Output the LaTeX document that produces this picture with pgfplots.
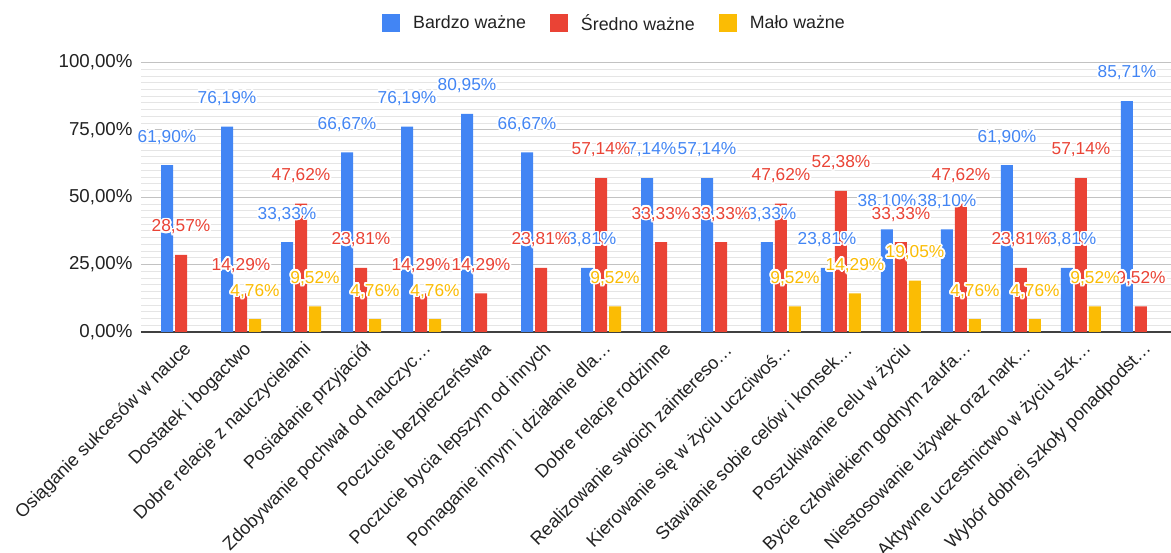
\documentclass[border=0pt]{standalone}
\usepackage{fontspec}
\setmainfont{Liberation Sans}
\usepackage{pgfplots}
\pgfplotsset{compat=1.18}
\usepackage{contour}
\contourlength{1.7pt}
\contournumber{24}
\definecolor{gblue}{HTML}{4285F4}
\definecolor{gred}{HTML}{EA4335}
\definecolor{gyellow}{HTML}{FBBC04}
\definecolor{txt}{HTML}{222222}
\pgfplotsset{sqlegend/.style={legend image code/.code={\fill[##1] (0pt,-9pt) rectangle (18pt,9pt);}}}
\pgfplotsset{lbl/.style 2 args={ybar, bar width=12pt, bar shift=0pt, draw=none, fill=none, forget plot,
  nodes near coords={\contour{white}{\pgfmathprintnumber[fixed,fixed zerofill,precision=2,use comma]{\pgfplotspointmeta}\%}},
  point meta=y,
  every node near coord/.append style={font=\fontsize{17.3}{18}\selectfont, inner sep=0pt, xshift=#2, yshift=19pt, text=#1}}}
\begin{document}
\begin{tikzpicture}[x=1pt,y=1pt]
\useasboundingbox (0,0) rectangle (1171,553);
\begin{axis}[
  at={(141pt,221pt)}, anchor=south west,
  scale only axis, width=1030pt, height=269.5pt,
  xmin=-0.667, xmax=16.5, ymin=0, ymax=100,
  clip=false,
  /pgf/number format/assume math mode=true,
  axis line style={draw=none},
  major tick length=0pt, minor tick length=0pt,
  ytick={0,25,50,75,100},
  yticklabels={{0,00\%},{25,00\%},{50,00\%},{75,00\%},{100,00\%}},
  minor y tick num=9,
  ymajorgrids, yminorgrids,
  major grid style={draw=black!24, line width=0.9pt},
  minor grid style={draw=black!10, line width=0.9pt},
  extra y ticks={0}, extra y tick labels={},
  extra y tick style={grid=major, major grid style={draw=black!75, line width=1.3pt}},
  yticklabel style={font=\fontsize{18.7}{20}\selectfont, text=txt, xshift=-5pt},
  xtick={0,...,16},
  xticklabels={Osiąganie sukcesów w nauce, Dostatek i bogactwo, Dobre relacje z nauczycielami, Posiadanie przyjaciół, Zdobywanie pochwał od nauczyc…, Poczucie bezpieczeństwa, Poczucie bycia lepszym od innych, Pomaganie innym i działanie dla…, Dobre relacje rodzinne, Realizowanie swoich zainteresо…, Kierowanie się w życiu uczciwoś…, Stawianie sobie celów i konsek…, Poszukiwanie celu w życiu, Bycie człowiekiem godnym zaufa…, Niestosowanie używek oraz nark…, Aktywne uczestnictwo w życiu szk…, Wybór dobrej szkoły ponadpodst…},
  xticklabel style={xshift=10pt, yshift=-12pt, rotate=45, anchor=east, font=\fontsize{18.2}{20}\selectfont, text=txt},
  legend style={at={(0.4597,1.1466)}, anchor=center, draw=none, fill=none,
    font=\fontsize{17.8}{19}\selectfont, text=txt,
    /tikz/every odd column/.append style={column sep=11pt},
    /tikz/every even column/.append style={column sep=22pt}},
  legend columns=-1,
]
\addplot[ybar, bar width=12pt, bar shift=-14pt, sqlegend, fill=gblue, draw=none] coordinates {
(0,61.90) (1,76.19) (2,33.33) (3,66.67) (4,76.19) (5,80.95) (6,66.67) (7,23.81) (8,57.14)
(9,57.14) (10,33.33) (11,23.81) (12,38.10) (13,38.10) (14,61.90) (15,23.81) (16,85.71)};
\addlegendentry{Bardzo ważne}
\addplot[ybar, bar width=12pt, bar shift=0pt, sqlegend, fill=gred, draw=none] coordinates {
(0,28.57) (1,14.29) (2,47.62) (3,23.81) (4,14.29) (5,14.29) (6,23.81) (7,57.14) (8,33.33)
(9,33.33) (10,47.62) (11,52.38) (12,33.33) (13,47.62) (14,23.81) (15,57.14) (16,9.52)};
\addlegendentry{Średno ważne}
\addplot[ybar, bar width=12pt, bar shift=14pt, sqlegend, fill=gyellow, draw=none] coordinates {
(1,4.76) (2,9.52) (3,4.76) (4,4.76) (7,9.52) (10,9.52) (11,14.29) (12,19.05) (13,4.76)
(14,4.76) (15,9.52)};
\addlegendentry{Mało ważne}
% labels drawn on top
\addplot[lbl={gblue}{-14pt}] coordinates {
(0,61.90) (1,76.19) (2,33.33) (3,66.67) (4,76.19) (5,80.95) (6,66.67) (7,23.81) (8,57.14)
(9,57.14) (10,33.33) (11,23.81) (12,38.10) (13,38.10) (14,61.90) (15,23.81) (16,85.71)};
\addplot[lbl={gred}{0pt}] coordinates {
(0,28.57) (1,14.29) (2,47.62) (3,23.81) (4,14.29) (5,14.29) (6,23.81) (7,57.14) (8,33.33)
(9,33.33) (10,47.62) (11,52.38) (12,33.33) (13,47.62) (14,23.81) (15,57.14) (16,9.52)};
\addplot[lbl={gyellow}{14pt}] coordinates {
(1,4.76) (2,9.52) (3,4.76) (4,4.76) (7,9.52) (10,9.52) (11,14.29) (12,19.05) (13,4.76)
(14,4.76) (15,9.52)};
\end{axis}
\end{tikzpicture}
\end{document}
